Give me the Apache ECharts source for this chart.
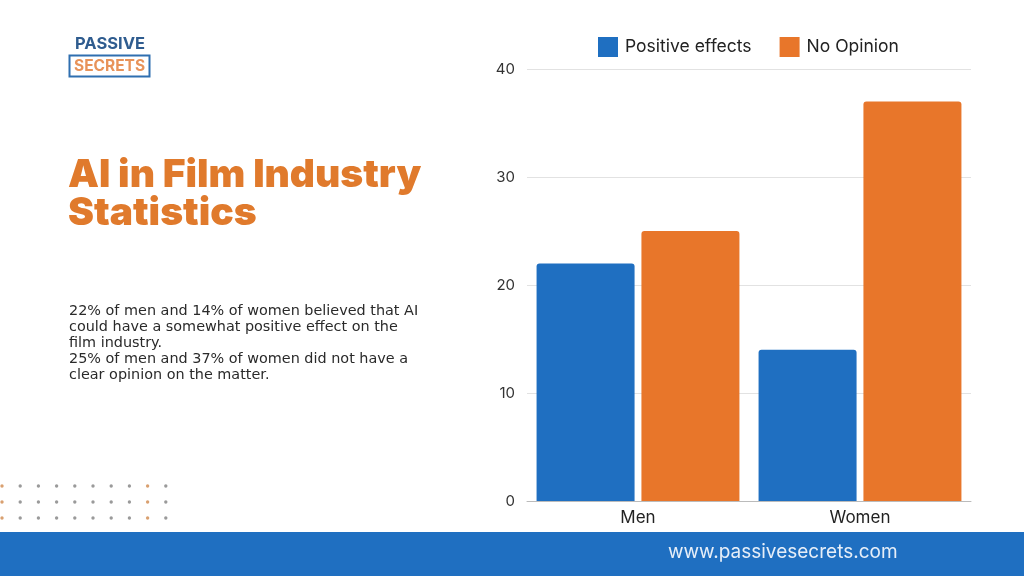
<!DOCTYPE html>
<html><head><meta charset="utf-8">
<script src="https://cdn.jsdelivr.net/npm/echarts@6/dist/echarts.min.js"></script>
<style>html,body{margin:0;padding:0;background:#fff}#c{width:1024px;height:576px}</style>
</head><body><div id="c"></div>
<script>
const categories = ['Men', 'Women'];
const seriesNames = ['Positive effects', 'No Opinion'];
const positiveEffects = [22, 14];
const noOpinion = [25, 37];
const yTicks = [0, 10, 20, 30, 40];

const BLUE = '#1F6FC1', ORANGE = '#E8762A';
const chart = echarts.init(document.getElementById('c'));
const font = 'Inter, "Open Sans", sans-serif';
const wide = '"DejaVu Sans", Verdana, sans-serif';

const dots = [];
for (let r = 0; r < 3; r++) {
  for (let c = 0; c < 10; c++) {
    const orange = (c === 0 || c === 8);
    dots.push({type:'circle', shape:{cx: 2 + c*18.2, cy: 486 + r*16, r:1.7},
      style:{fill: orange ? '#D9A070' : '#9a9a9a'}, silent:true});
  }
}

chart.setOption({
  backgroundColor: '#ffffff',
  animation: false,
  color: [BLUE, ORANGE],
  legend: {
    data: seriesNames, top: 32, left: 593, itemWidth: 20, itemHeight: 20, itemGap: 28,
    icon: 'rect',
    textStyle: {fontFamily: font, fontSize: 17.5, color: '#222', padding:[0,0,0,2]}
  },
  grid: {left: 527, right: 53, top: 69, bottom: 75},
  xAxis: {
    type: 'category', data: categories,
    axisLine: {show: true, lineStyle: {color: '#bbb'}},
    axisTick: {show: false},
    axisLabel: {fontFamily: font, fontSize: 17, color: '#222', margin: 8}
  },
  yAxis: {
    type: 'value', min: yTicks[0], max: yTicks[yTicks.length-1], interval: 10,
    axisLine: {show: false}, axisTick: {show: false},
    axisLabel: {fontFamily: font, fontSize: 15, color: '#333', margin: 12},
    splitLine: {lineStyle: {color: '#e2e2e2'}}
  },
  series: [
    {name: seriesNames[0], type: 'bar', data: positiveEffects, barWidth: 98, barGap: '7%',
     itemStyle: {color: BLUE, borderRadius: [3,3,0,0]}},
    {name: seriesNames[1], type: 'bar', data: noOpinion, barWidth: 98,
     itemStyle: {color: ORANGE, borderRadius: [3,3,0,0]}}
  ],
  graphic: [
    {type:'rect', shape:{x:0, y:532, width:1024, height:44}, style:{fill: BLUE}, silent:true},
    {type:'text', left: 668, top: 543, style:{text:'www.passivesecrets.com', fontFamily: font, fontSize: 19, fill:'#E6EEF8'}},
    {type:'text', left: 75, top: 36, style:{text:'PASSIVE', fontFamily: font, fontSize: 16.5, fontWeight: 'bold', fill:'#2F5C8F'}},
    {type:'rect', shape:{x:69.5, y:55.5, width:80, height:21}, style:{fill:'none', stroke:'#2F6FB0', lineWidth:2}},
    {type:'text', left: 74, top: 58, style:{text:'SECRETS', fontFamily: font, fontSize: 15.5, fontWeight: 'bold', fill:'#E8935A'}},
    {type:'text', left: 68, top: 156, style:{text:'AI in Film Industry\nStatistics', fontFamily: font, fontSize: 39, fontWeight: 900, fill:'#E07A2C', lineHeight: 38}},
    {type:'text', left: 69, top: 303, style:{text:'22% of men and 14% of women believed that AI\ncould have a somewhat positive effect on the\nfilm industry.\n25% of men and 37% of women did not have a\nclear opinion on the matter.', fontFamily: wide, fontSize: 14.4, fill:'#2a2a2a', lineHeight: 16}},
    ...dots
  ]
});
</script></body></html>
